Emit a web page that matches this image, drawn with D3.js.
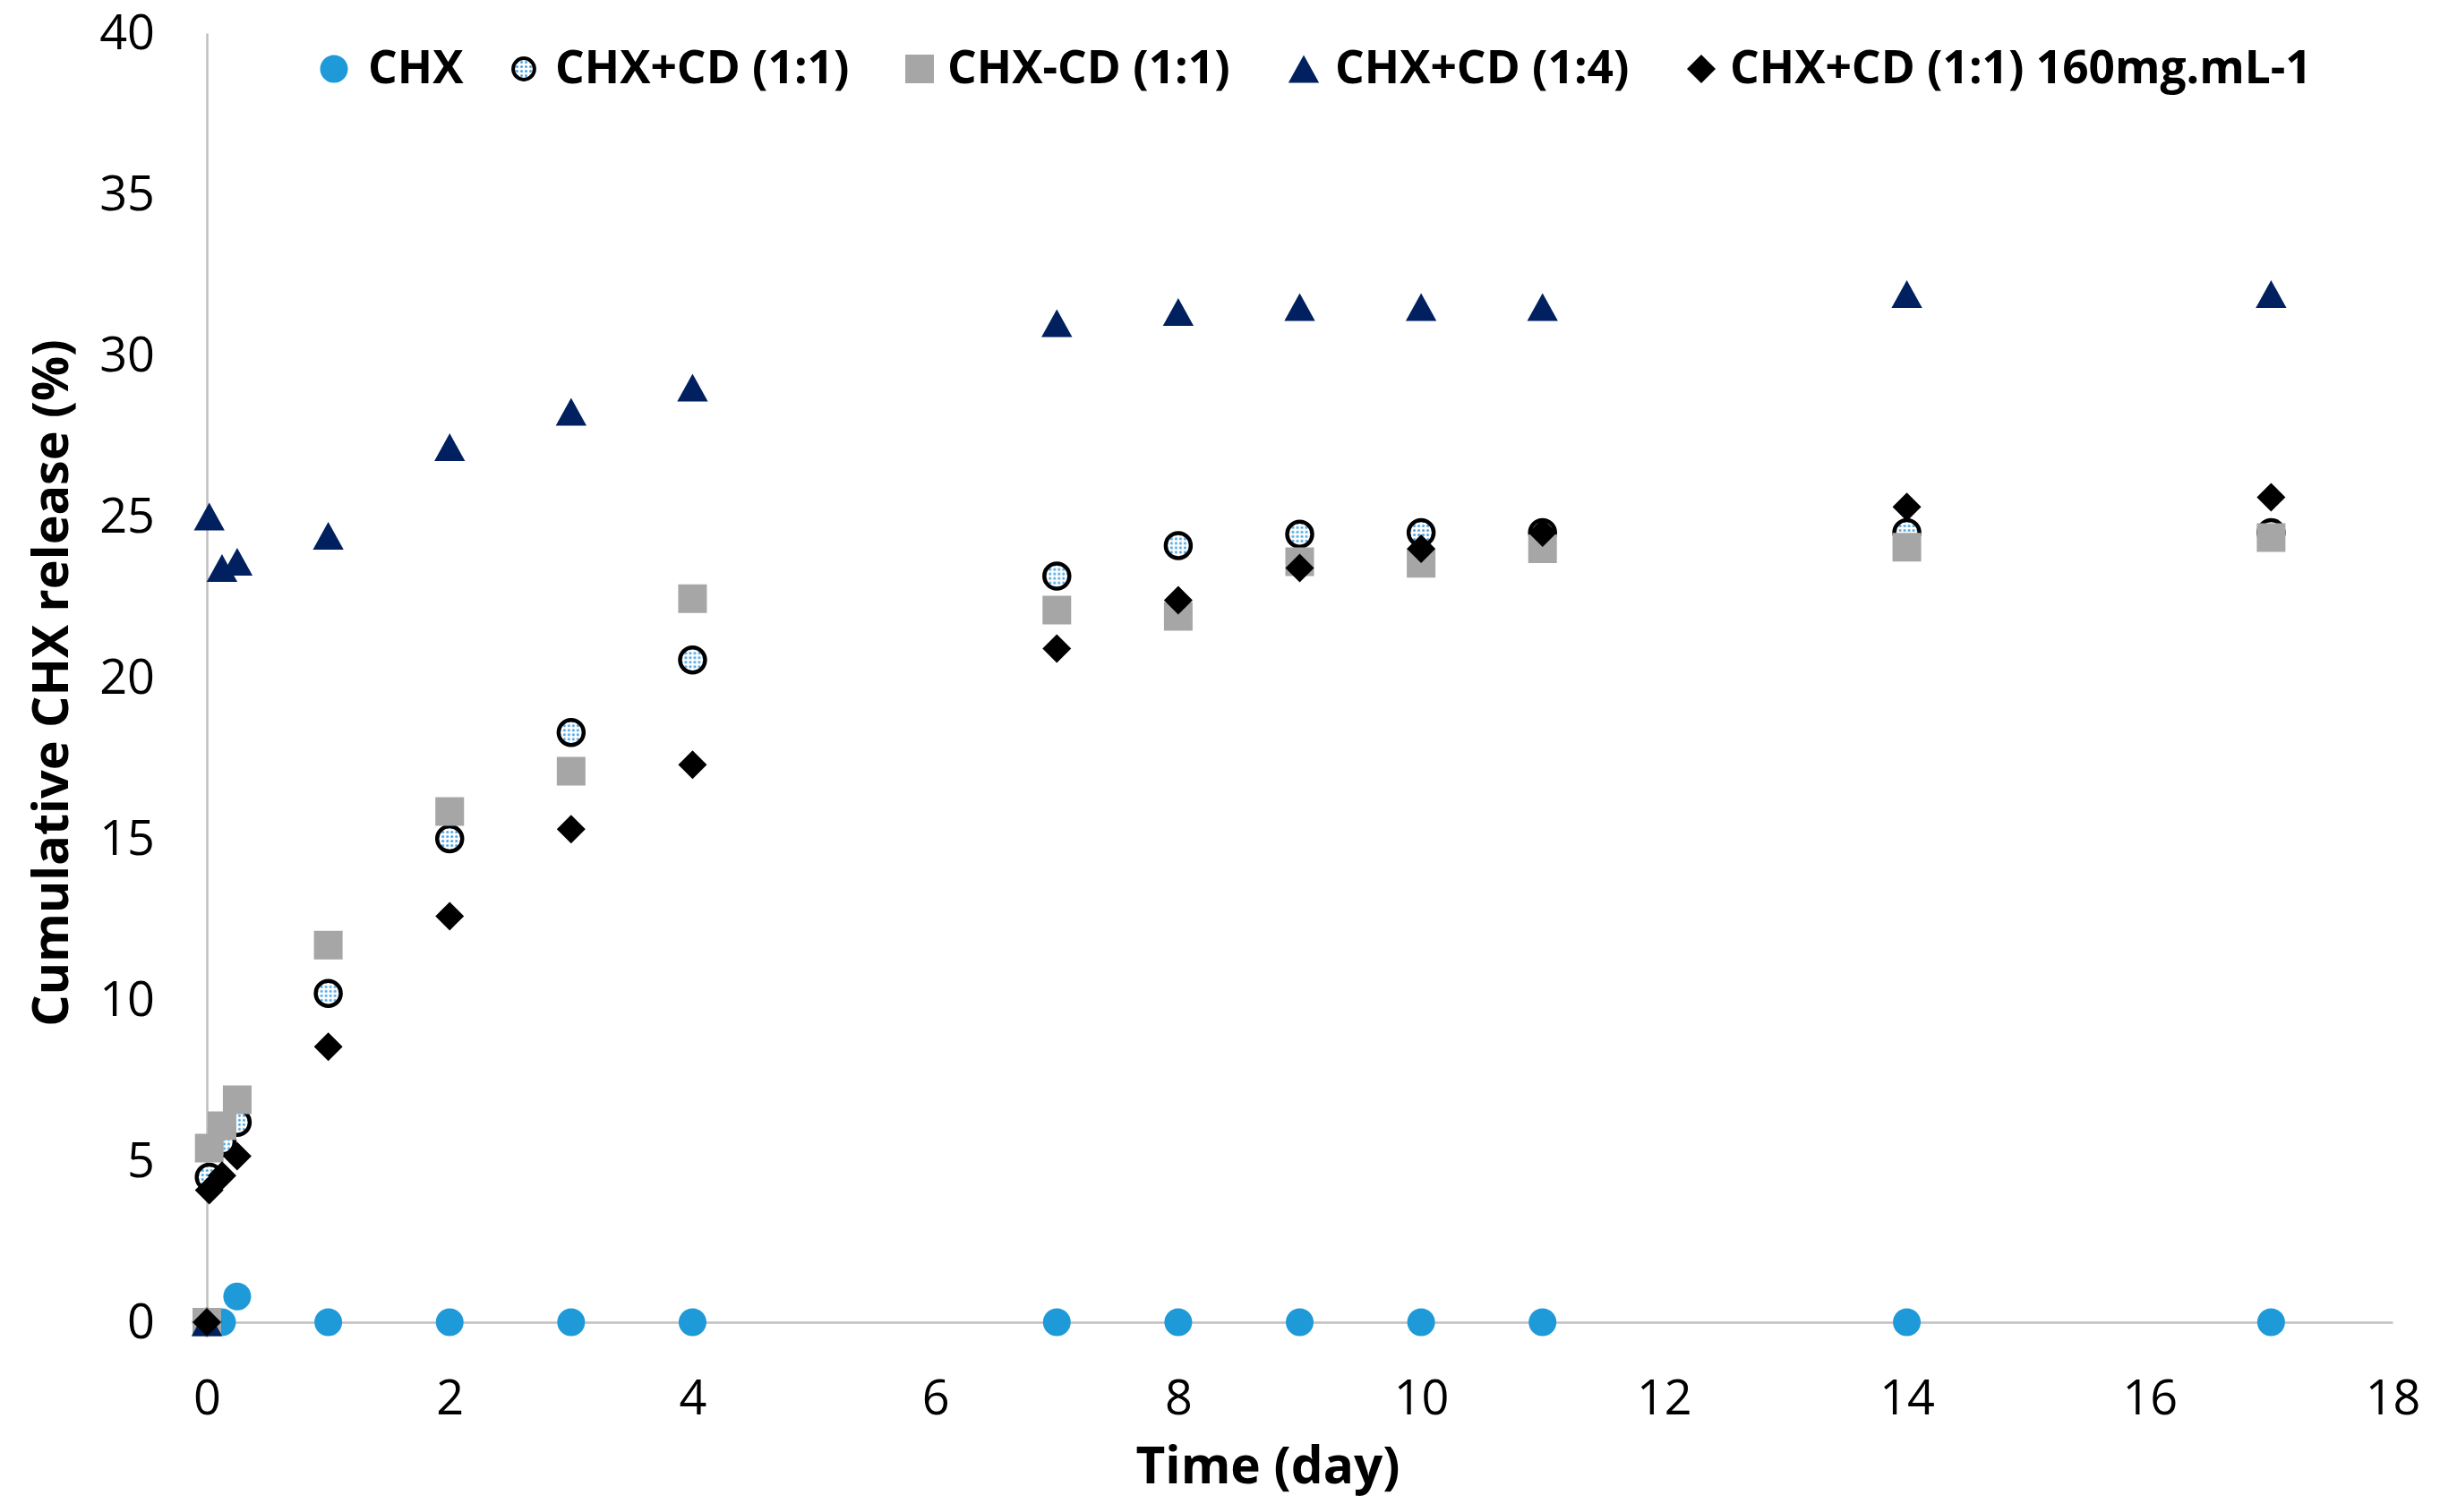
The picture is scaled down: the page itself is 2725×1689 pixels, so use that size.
<!DOCTYPE html>
<html>
<head>
<meta charset="utf-8">
<script src="https://cdn.jsdelivr.net/npm/d3@7"></script>
<style>
	body { margin: 0; background: #ffffff; }
	svg { display: block; }
</style>
</head>
<body>
<div id="chart"></div>
<script>
// time points (day)
const times = [0, 0.02, 0.125, 0.25, 1, 2, 3, 4, 7, 8, 9, 10, 11, 14, 17]

// cumulative release (%) per formulation
const chx = [0, 0, 0, 0.8, 0, 0, 0, 0, 0, 0, 0, 0, 0, 0, 0]
const chx_cd_11 = [0, 4.5, 5.6, 6.2, 10.2, 15.0, 18.3, 20.55, 23.15, 24.1, 24.45, 24.5, 24.5, 24.5, 24.5]
const chx_cd_complex = [0, 5.4, 6.1, 6.9, 11.7, 15.85, 17.1, 22.45, 22.1, 21.9, 23.6, 23.55, 24.0, 24.05, 24.35]
const chx_cd_14 = [0, 25.0, 23.4, 23.6, 24.4, 27.15, 28.25, 29.0, 31.0, 31.35, 31.5, 31.5, 31.5, 31.9, 31.9]
const chx_cd_11_160 = [0, 4.1, 4.55, 5.15, 8.55, 12.6, 15.3, 17.3, 20.9, 22.4, 23.4, 24.0, 24.5, 25.3, 25.6]

const series_names = ["CHX", "CHX+CD (1:1)", "CHX-CD (1:1)", "CHX+CD (1:4)", "CHX+CD (1:1) 160mg.mL-1"]
const series_values = [chx, chx_cd_11, chx_cd_complex, chx_cd_14, chx_cd_11_160]

const x_ticks = [0, 2, 4, 6, 8, 10, 12, 14, 16, 18]
const y_ticks = [0, 5, 10, 15, 20, 25, 30, 35, 40]

const chart_width = 2725
const chart_height = 1689
const pad_left = 231, pad_right = 2672, pad_top = 37, pad_bottom = 1477
const font = "'Open Sans', 'Noto Sans', sans-serif"

// excel-like marker shapes, sized by bounding box
const triangle = { draw(ctx, size) { const s = Math.sqrt(size); ctx.moveTo(0, -s * 0.47); ctx.lineTo(s * 0.52, s * 0.47); ctx.lineTo(-s * 0.52, s * 0.47); ctx.closePath() } }
const diamond = { draw(ctx, size) { const s = Math.sqrt(size) / 2; ctx.moveTo(0, -s); ctx.lineTo(s, 0); ctx.lineTo(0, s); ctx.lineTo(-s, 0); ctx.closePath() } }
const square = { draw(ctx, size) { const s = Math.sqrt(size) / 2; ctx.rect(-s, -s, 2 * s, 2 * s) } }

const styles = [
	{ type: d3.symbolCircle, size: Math.PI * 15.5 * 15.5, fill: "#1f9ad8", stroke: "none", sw: 0 },
	{ type: d3.symbolCircle, size: Math.PI * 14 * 14, fill: "url(#dots)", stroke: "#000000", sw: 4.5 },
	{ type: square, size: 32 * 32, fill: "#a6a6a6", stroke: "none", sw: 0 },
	{ type: triangle, size: 33 * 33, fill: "#002060", stroke: "none", sw: 0 },
	{ type: diamond, size: 32 * 32, fill: "#000000", stroke: "none", sw: 0 }
]

const svg = d3.select("#chart").append("svg")
	.attr("width", chart_width)
	.attr("height", chart_height)

const defs = svg.append("defs")
const pat = defs.append("pattern")
	.attr("id", "dots")
	.attr("patternUnits", "userSpaceOnUse")
	.attr("width", 5)
	.attr("height", 5)
pat.append("rect").attr("width", 5).attr("height", 5).attr("fill", "#ffffff")
pat.append("circle").attr("cx", 2.5).attr("cy", 2.5).attr("r", 1.5).attr("fill", "#4aa3e2")

svg.append("rect").attr("width", chart_width).attr("height", chart_height).attr("fill", "#ffffff")

const x = d3.scaleLinear().domain([0, 18]).range([pad_left, pad_right])
const y = d3.scaleLinear().domain([0, 40]).range([pad_bottom, pad_top])

// axes
const x_axis = svg.append("g")
	.attr("transform", `translate(0,${pad_bottom})`)
	.call(d3.axisBottom(x).tickValues(x_ticks).tickSize(0).tickPadding(65))
const y_axis = svg.append("g")
	.attr("transform", `translate(${pad_left},0)`)
	.call(d3.axisLeft(y).tickValues(y_ticks).tickSize(0).tickPadding(58))

;[x_axis, y_axis].forEach(g => {
	g.select(".domain").attr("stroke", "#bfbfbf").attr("stroke-width", 2.5)
	g.selectAll("text")
		.attr("font-family", font)
		.attr("font-size", 54)
		.attr("fill", "#000000")
})

function fit(sel, target) {
	const w = sel.node().getComputedTextLength()
	const fs = parseFloat(sel.attr("font-size"))
	sel.attr("font-size", fs * target / w)
	return fs * target / w
}

// axis titles
const x_title = svg.append("text")
	.attr("x", 1416)
	.attr("y", 1657)
	.attr("text-anchor", "middle")
	.attr("font-family", font)
	.attr("font-weight", "bold")
	.attr("font-size", 60)
	.text("Time (day)")
fit(x_title, 295)

const y_title = svg.append("text")
	.attr("transform", "translate(76,763) rotate(-90)")
	.attr("text-anchor", "middle")
	.attr("font-family", font)
	.attr("font-weight", "bold")
	.attr("font-size", 60)
	.text("Cumulative CHX release (%)")
fit(y_title, 768)

// points
const marks = svg.append("g").attr("class", "marks")
series_values.forEach((vals, si) => {
	const st = styles[si]
	const sym = d3.symbol().type(st.type).size(st.size)
	marks.append("g")
		.selectAll("path")
		.data(times.map((t, i) => [t, vals[i]]))
		.join("path")
		.attr("d", sym)
		.attr("transform", d => `translate(${x(d[0])},${y(d[1])})`)
		.attr("fill", st.fill)
		.attr("stroke", st.stroke)
		.attr("stroke-width", st.sw)
})

// legend
const legend_marker_x = [373, 585, 1027, 1456, 1900]
const legend_text_x = [411, 620, 1058, 1491, 1932]
const legend = svg.append("g").attr("class", "legend")
const probe = legend.append("text")
	.attr("font-family", font)
	.attr("font-weight", "bold")
	.attr("font-size", 50)
	.text(series_names[4])
const legend_fs = fit(probe, 650)
probe.remove()

series_names.forEach((name, si) => {
	const st = styles[si]
	const k = si == 1 ? 0.85 : 1
	legend.append("path")
		.attr("d", d3.symbol().type(st.type).size(st.size * k * k)())
		.attr("transform", `translate(${legend_marker_x[si]},77)`)
		.attr("fill", st.fill)
		.attr("stroke", st.stroke)
		.attr("stroke-width", si == 1 ? 4 : 0)
	legend.append("text")
		.attr("x", legend_text_x[si])
		.attr("y", 93)
		.attr("font-family", font)
		.attr("font-weight", "bold")
		.attr("font-size", legend_fs)
		.attr("fill", "#000000")
		.text(name)
})
</script>
</body>
</html>
